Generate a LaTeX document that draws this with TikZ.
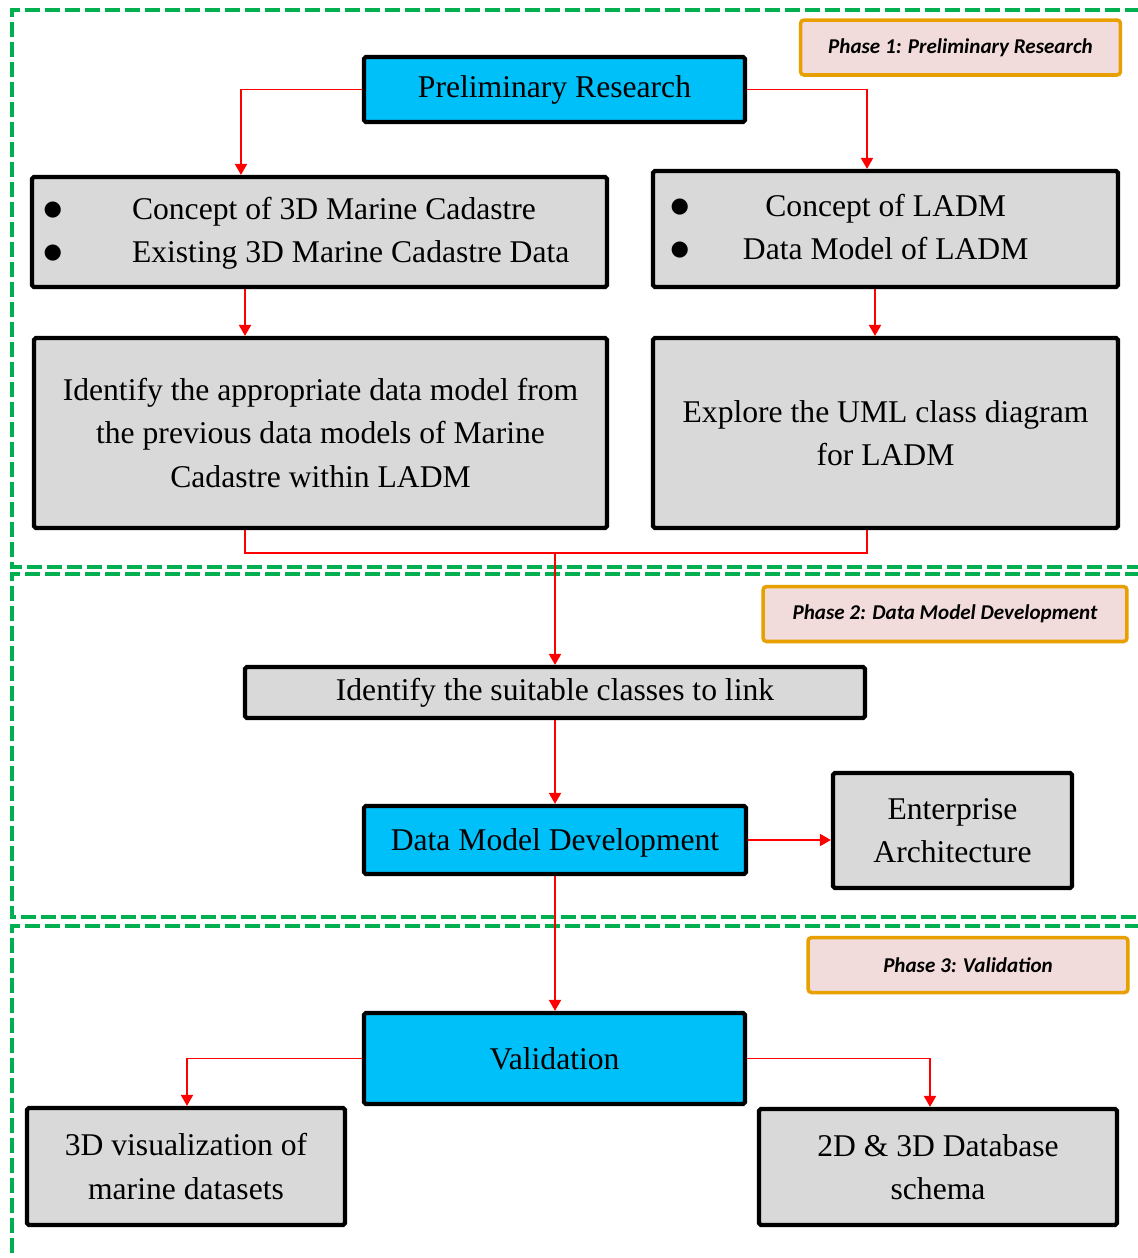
\documentclass[tikz,border=0pt]{standalone}
\usepackage{fontspec}
\setmainfont{Liberation Serif}
\newfontfamily\phasefont{Carlito}
\newfontfamily\symfont{DejaVu Sans}
\usepackage{tikz}
\usetikzlibrary{arrows.meta}
\definecolor{boxgrey}{RGB}{217,217,217}
\definecolor{boxcyan}{RGB}{0,192,250}
\definecolor{framegreen}{RGB}{0,176,80}
\definecolor{tagorange}{RGB}{232,160,0}
\definecolor{tagpink}{RGB}{242,220,219}
\newcommand{\bigbullet}{\raisebox{2pt}{\symfont\fontsize{12}{14}\selectfont ●}}

\begin{document}
\begin{tikzpicture}[x=0.02cm,y=-0.02cm,
  every node/.style={font=\fontsize{18}{24.5}\selectfont},
  greybox/.style={draw=black,line width=2.4pt,fill=boxgrey,rounded corners=1pt,inner sep=0pt,align=center},
  bluebox/.style={greybox,fill=boxcyan},
  phasebox/.style={draw=tagorange,line width=2pt,fill=tagpink,rounded corners=2pt,inner sep=0pt,minimum height=1.1cm,font=\phasefont\bfseries\itshape\fontsize{12}{14}\selectfont},
  arr/.style={draw=red,line width=1.1pt,-{Triangle[width=0.24cm,length=0.22cm]}},
  link/.style={draw=red,line width=1.1pt},
  phaseframe/.style={draw=framegreen,line width=2.2pt,dash pattern=on 0.3cm off 0.1cm}]
\useasboundingbox (0,0) rectangle (1137,1258);

% dashed phase frames
\draw[phaseframe] (1140,10) -- (12,10) -- (12,567) -- (1140,567);
\draw[phaseframe] (1140,574) -- (12,574) -- (12,917) -- (1140,917);
\draw[phaseframe] (1140,926) -- (12,926) -- (12,1262);

% phase tags
\node[phasebox,minimum width=6.4cm] (tag1) at (960.5,47.5) {Phase 1: Preliminary Research};
\node[phasebox,minimum width=7.28cm] (tag2) at (945,614) {Phase 2: Data Model Development};
\node[phasebox,minimum width=6.4cm] (tag3) at (968,965) {Phase 3: Validation};

% phase 1
\node[bluebox,minimum width=7.62cm,minimum height=1.3cm] (prelim) at (554.5,89.5) {Preliminary Research};
\node[greybox,minimum width=11.5cm,minimum height=2.2cm] (boxA) at (319.5,232)
  {\begin{tabular}{@{}l@{\hspace{1.4cm}}l@{\hspace{0.52cm}}}
   \bigbullet & Concept of 3D Marine Cadastre\\
   \bigbullet & Existing 3D Marine Cadastre Data
   \end{tabular}};
\node[greybox,minimum width=9.3cm,minimum height=2.32cm] (boxB) at (885.5,229)
  {\begin{tabular}{@{}l@{\hspace{1.08cm}}c@{\hspace{1.44cm}}}
   \bigbullet & Concept of LADM\\
   \bigbullet & Data Model of LADM
   \end{tabular}};
\node[greybox,minimum width=11.46cm,minimum height=3.8cm] (boxC) at (320.5,433)
  {Identify the appropriate data model from\\the previous data models of Marine\\Cadastre within LADM};
\node[greybox,minimum width=9.3cm,minimum height=3.8cm] (boxD) at (885.5,433)
  {Explore the UML class diagram\\for LADM};

% phase 2
\node[greybox,minimum width=12.4cm,minimum height=1.02cm] (ident) at (555,692.5) {Identify the suitable classes to link};
\node[bluebox,minimum width=7.64cm,minimum height=1.36cm,text depth=0pt] (dmd) at (555,840) {Data Model Development};
\node[greybox,minimum width=4.78cm,minimum height=2.3cm] (ea) at (952.5,830.5) {Enterprise\\Architecture};

% phase 3
\node[bluebox,minimum width=7.62cm,minimum height=1.82cm] (valid) at (554.5,1058.5) {Validation};
\node[greybox,minimum width=6.36cm,minimum height=2.34cm] (viz) at (186,1166.5) {3D visualization of\\marine datasets};
\node[greybox,minimum width=7.16cm,minimum height=2.32cm] (db) at (938,1167) {2D \& 3D Database\\schema};

% guide columns for the connectors
\coordinate (gA) at (241,0);
\coordinate (gB) at (867,0);
\coordinate (gC) at (245,0);
\coordinate (gD) at (875,0);
\coordinate (gV1) at (187,0);
\coordinate (gV2) at (930,0);
\coordinate (join) at (555,553);

% connectors
\draw[arr] (prelim.west) -| (gA |- boxA.north);
\draw[arr] (prelim.east) -| (gB |- boxB.north);
\draw[arr] (gC |- boxA.south) -- (gC |- boxC.north);
\draw[arr] (gD |- boxB.south) -- (gD |- boxD.north);
\draw[link] (gC |- boxC.south) |- (join) -| (gB |- boxD.south);
\draw[arr] (join) -- (ident.north);
\draw[arr] (ident.south) -- (dmd.north);
\draw[arr] (dmd.east) -- (dmd.east -| ea.west);
\draw[arr] (dmd.south) -- (dmd.south |- valid.north);
\draw[arr] (valid.west) -| (gV1 |- viz.north);
\draw[arr] (valid.east) -| (gV2 |- db.north);
\end{tikzpicture}
\end{document}
